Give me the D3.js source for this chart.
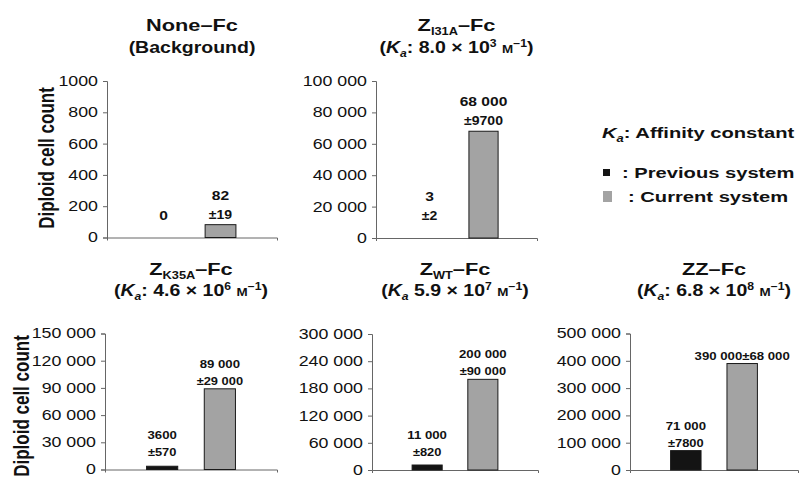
<!DOCTYPE html>
<html>
<head>
<meta charset="utf-8">
<script src="https://cdn.jsdelivr.net/npm/d3@7"></script>
<style>
  body { margin: 0; background: #fff; }
  text { font-family: Arial, "Liberation Sans", sans-serif; fill: #111; }
</style>
</head>
<body>
<div id="chart"></div>
<script>
// panel titles
const titleMain = ["None", "Z", "Z", "Z", "ZZ"];
const titleSub = ["", "I31A", "K35A", "WT", ""];
const kaMantissa = ["", "8.0", "4.6", "5.9", "6.8"];
const kaExponent = ["", "3", "6", "7", "8"];
const kaColon = [":", ":", ":", "", ":"];   // the Z_WT panel prints no colon

// series
const systems = ["Previous system", "Current system"];
const previousValues = [0, 3, 3600, 11000, 71000];
const previousErrors = [null, 2, 570, 820, 7800];
const currentValues = [82, 68000, 89000, 200000, 390000];
const currentErrors = [19, 9700, 29000, 90000, 68000];

// y axes
const yMax = [1000, 100000, 150000, 300000, 500000];
const yStep = [200, 20000, 30000, 60000, 100000];

// where each panel sits (pixels)
const frames = [
  { x0: 107, x1: 277, y0: 237.5, y1: 81, row: 0 },
  { x0: 376, x1: 537, y0: 238, y1: 81, row: 0 },
  { x0: 105, x1: 277, y0: 469.5, y1: 333.5, row: 1 },
  { x0: 372, x1: 538, y0: 470, y1: 334, row: 1 },
  { x0: 630, x1: 798, y0: 470, y1: 333.5, row: 1 }
];

const grouped = d3.formatLocale({ decimal: ".", thousands: " ", grouping: [3], currency: ["", ""] }).format(",");
const fmt = v => v < 10000 ? String(v) : grouped(v);

const svg = d3.select("#chart").append("svg")
  .attr("width", 805)
  .attr("height", 479);

// the source picture is stretched sideways, so text gets a scaleX
function stretched(parent, x, y, size, weight, anchor, sx) {
  return parent.append("text")
    .attr("transform", `translate(${x},${y}) scale(${sx},1)`)
    .attr("font-size", size)
    .attr("font-weight", weight)
    .attr("text-anchor", anchor);
}

frames.forEach(function (f, i) {
  const g = svg.append("g");
  const cx = (f.x0 + f.x1) / 2;

  // title line 1
  const t1 = stretched(g, cx, f.row ? 275 : 31, 17, "bold", "middle", 1.28);
  t1.append("tspan").text(titleMain[i]);
  if (titleSub[i]) {
    t1.append("tspan").attr("font-size", 10).attr("dy", 4).text(titleSub[i]);
    t1.append("tspan").attr("dy", -4).text("–Fc");
  } else {
    t1.append("tspan").text("–Fc");
  }

  // title line 2
  const t2 = stretched(g, cx, f.row ? 296 : 53, 16, "bold", "middle", 1.22);
  if (!kaMantissa[i]) {
    t2.text("(Background)");
  } else {
    t2.append("tspan").text("(");
    t2.append("tspan").attr("font-style", "italic").text("K");
    t2.append("tspan").attr("font-style", "italic").attr("font-size", 10).attr("dy", 4).text("a");
    t2.append("tspan").attr("dy", -4).text(kaColon[i] + " " + kaMantissa[i] + " × 10");
    t2.append("tspan").attr("font-size", 10).attr("dy", -6).text(kaExponent[i]);
    t2.append("tspan").attr("dy", 6).text(" ");
    t2.append("tspan").attr("font-size", 11).text("M");
    t2.append("tspan").attr("font-size", 10).attr("dy", -6).text("−1");
    t2.append("tspan").attr("dy", 6).text(")");
  }

  const y = d3.scaleLinear().domain([0, yMax[i]]).range([f.y0, f.y1]);
  const x = d3.scaleBand().domain(systems).range([f.x0, f.x1])
    .paddingInner(0.46).paddingOuter(0.72);

  g.append("g")
    .attr("transform", `translate(${f.x0},0)`)
    .call(d3.axisLeft(y).tickValues(d3.range(0, yMax[i] + 1, yStep[i])).tickSize(4).tickFormat(fmt))
    .call(a => {
      a.attr("font-family", null).attr("font-size", null);
      a.select(".domain").attr("stroke", "#666");
      a.selectAll(".tick line").attr("stroke", "#666");
      a.selectAll(".tick text")
        .attr("font-size", 14)
        .attr("fill", "#222")
        .attr("x", -9 / 1.27)
        .attr("transform", "scale(1.27,1)");
    });

  g.append("g")
    .attr("transform", `translate(0,${f.y0})`)
    .call(d3.axisBottom(x).tickValues([]).tickSizeOuter(3))
    .call(a => a.select(".domain").attr("stroke", "#666"));

  const rows = systems.map((s, k) => ({
    s: s,
    v: k ? currentValues[i] : previousValues[i],
    e: k ? currentErrors[i] : previousErrors[i]
  }));

  g.selectAll("rect.bar")
    .data(rows)
    .join("rect")
    .attr("class", "bar")
    .attr("x", d => x(d.s))
    .attr("width", x.bandwidth())
    .attr("y", d => y(d.v))
    .attr("height", d => y(0) - y(d.v))
    .attr("fill", d => d.s === systems[0] ? "#141414" : "#a3a3a3")
    .attr("stroke", d => (y(0) - y(d.v) < 1) ? "none" : "#1a1a1a")
    .attr("stroke-width", 1);

  // value labels
  rows.forEach(function (d, k) {
    const bx = x(d.s) + x.bandwidth() / 2;
    const base = f.row
      ? Math.min(y(d.v) - 4, f.y0 - 14)
      : Math.min(y(d.v) - 6, f.y0 - 18);
    const vSize = f.row ? 11 : 13, eSize = f.row ? 11 : 12;
    const gap = f.row ? 17 : 19;
    if (i === 4 && k === 1) {
      stretched(g, bx, base, vSize, "bold", "middle", 1.2).text(fmt(d.v) + "±" + fmt(d.e));
    } else if (d.e == null) {
      stretched(g, bx, base, vSize, "bold", "middle", 1.2).text(fmt(d.v));
    } else {
      stretched(g, bx, base, eSize, "bold", "middle", 1.17).text("±" + fmt(d.e));
      stretched(g, bx, base - gap, vSize, "bold", "middle", 1.2).text(fmt(d.v));
    }
  });
});

// y axis titles (top row sits closer to its shorter tick labels)
[[54, 158], [29, 406]].forEach(function (p) {
  svg.append("text")
    .attr("transform", `translate(${p[0]},${p[1]}) rotate(-90) scale(1,1.25)`)
    .attr("font-size", 17)
    .attr("font-weight", "bold")
    .attr("text-anchor", "middle")
    .text("Diploid cell count");
});

// legend
const lk = stretched(svg, 602, 138, 15.5, "bold", "start", 1.3);
lk.append("tspan").attr("font-style", "italic").text("K");
lk.append("tspan").attr("font-style", "italic").attr("font-size", 10).attr("dy", 4).text("a");
lk.append("tspan").attr("dy", -4).text(": Affinity constant");

svg.append("rect").attr("x", 603).attr("y", 169).attr("width", 7).attr("height", 7).attr("fill", "#141414");
stretched(svg, 622, 178, 15.5, "bold", "start", 1.3).text(": " + systems[0]);
svg.append("rect").attr("x", 603).attr("y", 191).attr("width", 9).attr("height", 11).attr("fill", "#a3a3a3");
stretched(svg, 628, 202, 15.5, "bold", "start", 1.3).text(": " + systems[1]);
</script>
</body>
</html>
